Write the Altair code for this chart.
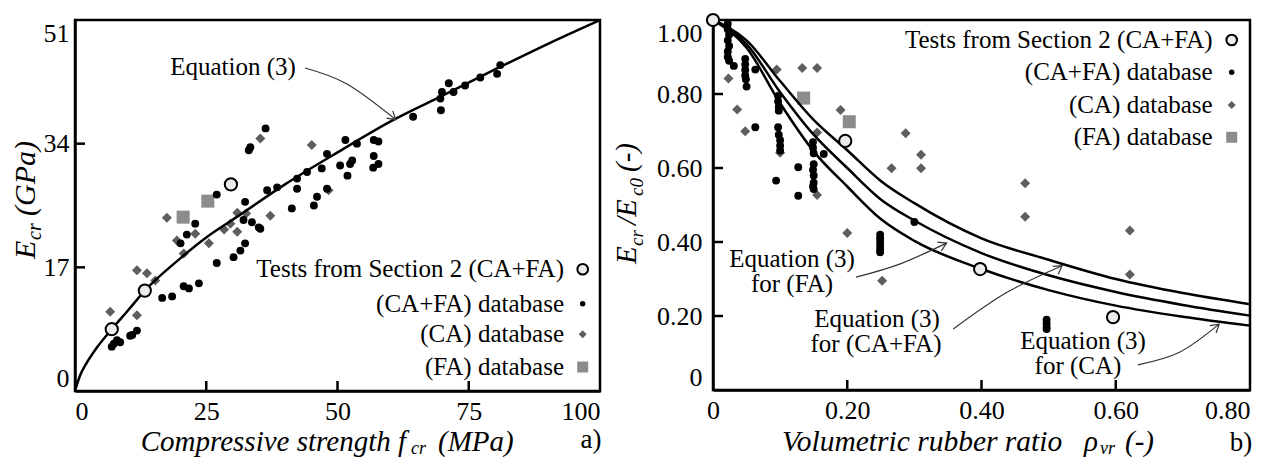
import altair as alt
import pandas as pd

FONT = "'Liberation Serif', 'Times New Roman', Times, 'DejaVu Serif', serif"
INK = "black"
GREY_DIAMOND = "#5e5e5e"
GREY_SQUARE = "#8c8c8c"
TEST_FILL = "#ececec"

# ---------------- panel a): E_cr against f_cr ----------------
fc_test = [7.0, 13.3, 29.7]
E_test = [8.5, 13.8, 28.4]

fc_cafa = [36.3, 33.4, 33.1, 48.0, 27.0, 36.6, 38.5, 42.3, 42.3, 44.2,
           47.0, 48.0, 46.1, 45.5, 41.3, 32.4, 33.7, 35.0, 32.1, 22.9,
           21.3, 20.1, 32.4, 31.5, 30.2, 27.0, 23.6, 21.7, 20.7, 18.5,
           16.6, 11.8, 10.9, 8.0, 7.4, 7.0, 8.6, 10.5, 35.3, 81.0,
           80.4, 77.2, 74.3, 71.2, 72.1, 69.9, 69.6, 69.7, 64.4, 57.8,
           56.9, 53.7, 51.5, 50.5, 52.8, 52.4, 51.9, 56.9, 57.8, 56.8]
E_cafa = [36.1, 33.5, 33.1, 32.6, 27.0, 27.6, 28.0, 29.2, 27.8, 30.1,
          30.6, 27.8, 26.7, 25.5, 25.1, 26.0, 23.2, 22.5, 23.5, 23.0,
          21.5, 20.3, 20.3, 19.3, 18.4, 17.6, 14.8, 14.1, 14.4, 13.0,
          12.8, 8.3, 7.7, 7.0, 6.5, 6.1, 6.7, 7.6, 22.3, 44.8,
          43.6, 43.1, 42.0, 42.3, 41.1, 41.1, 40.2, 38.6, 37.7, 34.3,
          34.5, 34.0, 34.5, 31.0, 31.7, 31.2, 29.6, 32.3, 31.2, 30.7]

fc_ca = [35.3, 45.1, 48.3, 37.2, 30.9, 32.6, 29.6, 28.4, 30.9, 22.9,
         25.5, 17.5, 19.4, 20.7, 11.8, 13.7, 15.3, 6.7, 11.8]
E_ca = [34.7, 33.8, 27.6, 24.1, 24.5, 24.4, 23.0, 22.2, 21.9, 21.6,
        20.3, 23.8, 20.7, 18.9, 16.6, 16.2, 15.2, 10.9, 10.4]

fc_fa = [25.3, 20.6]
E_fa = [26.1, 23.9]

# Equation (3) curve, panel a)
fc_eq = [0, 1, 2, 4, 7, 10, 13.3, 20, 25, 31, 40, 50, 61, 70, 80, 90, 100]
E_eq = [0, 2.2, 3.6, 5.8, 8.5, 11.0, 13.8, 18.2, 21.1, 24.0, 28.4, 32.8,
        37.4, 40.6, 44.2, 47.7, 51.0]

# ---------------- panel b): E_cr/E_c0 against rho_vr ----------------
rho_test = [0.0, 0.197, 0.398, 0.596]
ratio_test = [1.0, 0.673, 0.327, 0.197]

rho_cafa = [0.022, 0.022, 0.024, 0.022, 0.024, 0.022, 0.022, 0.024, 0.031,
            0.048, 0.048, 0.048, 0.048, 0.049, 0.050, 0.063, 0.063,
            0.097, 0.097, 0.098, 0.098, 0.097, 0.098, 0.100, 0.100, 0.100, 0.094,
            0.127, 0.127,
            0.149, 0.149, 0.150, 0.150, 0.149, 0.150, 0.150, 0.149, 0.150, 0.165,
            0.249, 0.249, 0.249, 0.249, 0.249, 0.249,
            0.300,
            0.497, 0.497, 0.497, 0.497]
ratio_cafa = [0.990, 0.975, 0.960, 0.945, 0.930, 0.915, 0.900, 0.890, 0.876,
              0.895, 0.880, 0.865, 0.850, 0.840, 0.820, 0.866, 0.710,
              0.795, 0.780, 0.765, 0.755, 0.710, 0.690, 0.675, 0.660, 0.647, 0.566,
              0.602, 0.525,
              0.670, 0.655, 0.640, 0.610, 0.595, 0.580, 0.560, 0.550, 0.543, 0.638,
              0.420, 0.410, 0.400, 0.390, 0.380, 0.372,
              0.454,
              0.190, 0.180, 0.170, 0.165]

rho_ca = [0.023, 0.036, 0.048, 0.095, 0.133, 0.155, 0.100, 0.155, 0.155, 0.190,
          0.266, 0.287, 0.310, 0.310, 0.200, 0.252, 0.465, 0.465, 0.621, 0.621]
ratio_ca = [0.842, 0.758, 0.699, 0.866, 0.870, 0.870, 0.641, 0.696, 0.527, 0.757,
            0.599, 0.694, 0.636, 0.599, 0.424, 0.295, 0.559, 0.468, 0.431, 0.312]

rho_fa = [0.135, 0.203]
ratio_fa = [0.789, 0.725]

# Equation (3) curves, panel b)
rho_eq = [0, 0.05, 0.10, 0.15, 0.20, 0.25, 0.30, 0.40, 0.50, 0.60, 0.70, 0.80]
ratio_eq_fa = [1.0, 0.945, 0.835, 0.73, 0.648, 0.565, 0.505, 0.41, 0.352, 0.300, 0.262, 0.232]
ratio_eq_cafa = [1.0, 0.935, 0.805, 0.69, 0.600, 0.515, 0.458, 0.37, 0.310, 0.265, 0.230, 0.201]
ratio_eq_ca = [1.0, 0.925, 0.775, 0.645, 0.550, 0.462, 0.403, 0.327, 0.270, 0.228, 0.198, 0.174]

# Panel sizes (plot areas)
WA, HA = 525, 371
WB, HB = 537, 370

ARROW_HEAD = "M -1 -0.6 L 0 0 L -1 0.6"


def frame(xs, ys):
    return pd.DataFrame({"x": xs, "y": ys})


def txt(s, x, y, size=25, italic=False, align="center", baseline="middle", angle=0):
    return alt.Chart(pd.DataFrame({"t": [s]})).mark_text(
        font=FONT, fontSize=size, fontStyle="italic" if italic else "normal",
        align=align, baseline=baseline, angle=angle, color=INK,
    ).encode(x=alt.value(x), y=alt.value(y), text="t:N")


def symbol(x, y, shape, size, fill, stroke=None, stroke_width=0):
    kw = dict(shape=shape, size=size, filled=True, fill=fill, opacity=1)
    if stroke:
        kw.update(stroke=stroke, strokeWidth=stroke_width)
    else:
        kw.update(strokeWidth=0)
    return alt.Chart(pd.DataFrame({"k": [0]})).mark_point(**kw).encode(
        x=alt.value(x), y=alt.value(y))


def axis(values, padding, flush=True, expr=None, align=None):
    kw = dict(values=values, title=None, ticks=False, tickSize=0, grid=False,
              labelFlush=flush, labelPadding=padding, labelFont=FONT,
              labelFontSize=26, labelColor=INK, domainColor=INK, domainWidth=2.5)
    if expr:
        kw["labelExpr"] = expr
    if align is not None:
        kw["labelAlign"] = align
    return alt.Axis(**kw)


def panel(sx, sy, ax, ay, dots, diamonds, squares, tests, curves, arrows,
          xticks, yticks, h):
    X = alt.X("x:Q", scale=sx, axis=ax)
    Y = alt.Y("y:Q", scale=sy, axis=ay)
    layers = []
    layers.append(alt.Chart(squares).mark_point(
        shape="square", filled=True, color=GREY_SQUARE, size=170, opacity=1,
        strokeWidth=0).encode(x=X, y=Y))
    layers.append(alt.Chart(diamonds).mark_point(
        shape="diamond", filled=True, color=GREY_DIAMOND, size=100, opacity=1,
        strokeWidth=0).encode(x=X, y=Y))
    layers.append(alt.Chart(dots).mark_circle(
        color=INK, size=62, opacity=1).encode(x=X, y=Y))
    for c in curves:
        layers.append(alt.Chart(c).mark_line(
            color=INK, strokeWidth=2.5, interpolate="monotone").encode(x=X, y=Y))
    for path, head_angle in arrows:
        layers.append(alt.Chart(path).mark_line(
            color="#333333", strokeWidth=1.2, interpolate="natural").encode(x=X, y=Y))
        layers.append(alt.Chart(path.tail(1)).mark_point(
            shape=ARROW_HEAD, filled=False, color="#333333", strokeWidth=1.2,
            size=256, opacity=1, angle=head_angle).encode(x=X, y=Y))
    layers.append(alt.Chart(tests).mark_point(
        shape="circle", filled=True, fill=TEST_FILL, stroke=INK, strokeWidth=2,
        size=150, opacity=1).encode(x=X, y=Y))
    # inward ticks
    layers.append(alt.Chart(pd.DataFrame({"x": xticks})).mark_rule(
        color=INK, strokeWidth=2.5).encode(
        x=alt.X("x:Q", scale=sx, axis=ax), y=alt.value(h), y2=alt.value(h - 10)))
    layers.append(alt.Chart(pd.DataFrame({"y": yticks})).mark_rule(
        color=INK, strokeWidth=2.5).encode(
        y=alt.Y("y:Q", scale=sy, axis=ay), x=alt.value(0), x2=alt.value(10)))
    return layers


def legend(x_text, x_sym, rows):
    return [
        txt("Tests from Section 2 (CA+FA)", x_text, rows[0], align="right"),
        txt("(CA+FA) database", x_text, rows[1], align="right"),
        txt("(CA) database", x_text, rows[2], align="right"),
        txt("(FA) database", x_text, rows[3], align="right"),
        symbol(x_sym, rows[0], "circle", 113, TEST_FILL, INK, 2),
        symbol(x_sym, rows[1], "circle", 30, INK),
        symbol(x_sym, rows[2], "diamond", 64, GREY_DIAMOND),
        symbol(x_sym, rows[3], "square", 121, GREY_SQUARE),
    ]


# ---- panel a) ----
SXA = alt.Scale(domain=[0, 100], nice=False, zero=False)
SYA = alt.Scale(domain=[0, 51], nice=False, zero=False)
AXA = axis([0, 25, 50, 75, 100], 7)
AYA = axis([0, 17, 34, 51], 6)

arrow_a = frame([43.8, 51.8, 61.1], [44.4, 42.2, 37.3])

layers_a = panel(
    SXA, SYA, AXA, AYA,
    frame(fc_cafa, E_cafa), frame(fc_ca, E_ca), frame(fc_fa, E_fa), frame(fc_test, E_test),
    [frame(fc_eq, E_eq)],
    [(arrow_a, 40)],
    [25, 50, 75], [17, 34], HA)
layers_a += legend(489, 507.7, [249.3, 283.7, 314.3, 347])
layers_a += [
    txt("Equation (3)", 158, 47),
    # x title
    txt("Compressive strength f", 331, 431, size=29, italic=True, align="right",
        baseline="alphabetic"),
    txt("cr", 336, 434, size=18, italic=True, align="left", baseline="alphabetic"),
    txt("(MPa)", 363, 431, size=29, italic=True, align="left", baseline="alphabetic"),
    # y title
    txt("E", -40, 239, size=30, italic=True, align="left", baseline="alphabetic", angle=270),
    txt("cr", -34, 220, size=20, italic=True, align="left", baseline="alphabetic", angle=270),
    txt("(GPa)", -40, 196, size=30, italic=True, align="left", baseline="alphabetic", angle=270),
    txt("a)", 516, 420, size=27),
]
chart_a = alt.layer(*layers_a).properties(width=WA, height=HA)

# ---- panel b) ----
SXB = alt.Scale(domain=[0, 0.8], nice=False, zero=False)
SYB = alt.Scale(domain=[0, 1.0], nice=False, zero=False)
AXB = axis([0, 0.2, 0.4, 0.6, 0.8], 7, flush=False,
           expr="datum.value == 0 ? '0' : format(datum.value, '.2f')",
           align={"condition": {"test": "datum.value >= 0.79", "value": "right"},
                  "value": "center"})
AYB = axis([0, 0.2, 0.4, 0.6, 0.8, 1.0], 11,
           expr="datum.value == 0 ? '0' : format(datum.value, '.2f')")

arrow_fa = frame([0.213, 0.279, 0.348], [0.305, 0.341, 0.397])
arrow_cafa = frame([0.358, 0.438, 0.520], [0.165, 0.264, 0.336])
arrow_ca = frame([0.633, 0.695, 0.754], [0.068, 0.102, 0.178])

layers_b = panel(
    SXB, SYB, AXB, AYB,
    frame(rho_cafa, ratio_cafa), frame(rho_ca, ratio_ca), frame(rho_fa, ratio_fa),
    frame(rho_test, ratio_test),
    [frame(rho_eq, ratio_eq_fa), frame(rho_eq, ratio_eq_cafa), frame(rho_eq, ratio_eq_ca)],
    [(arrow_fa, 335), (arrow_cafa, 325), (arrow_ca, 320)],
    [0.2, 0.4, 0.6], [0.2, 0.4, 0.6, 0.8], HB)
layers_b += legend(499.7, 518.7, [20, 52.3, 85, 117.3])
layers_b += [
    txt("Equation (3)", 79, 239), txt("for (FA)", 79, 264),
    txt("Equation (3)", 164, 299), txt("for (CA+FA)", 163, 324),
    txt("Equation (3)", 370, 321), txt("for (CA)", 365, 346),
    # x title
    txt("Volumetric rubber ratio", 69, 431, size=29.5, italic=True, align="left",
        baseline="alphabetic"),
    txt("\u03c1", 371, 431, size=29, italic=True, align="left", baseline="alphabetic"),
    txt("vr", 387, 434, size=18, italic=True, align="left", baseline="alphabetic"),
    txt("(-)", 412, 431, size=29, italic=True, align="left", baseline="alphabetic"),
    # y title
    txt("E", -77, 244, size=29, italic=True, align="left", baseline="alphabetic", angle=270),
    txt("cr", -70, 226, size=19, italic=True, align="left", baseline="alphabetic", angle=270),
    txt("/E", -77, 205, size=29, italic=True, align="left", baseline="alphabetic", angle=270),
    txt("c0", -70, 176, size=19, italic=True, align="left", baseline="alphabetic", angle=270),
    txt("(-)", -77, 152, size=29, italic=True, align="left", baseline="alphabetic", angle=270),
    txt("b)", 528, 423, size=27),
]
chart_b = alt.layer(*layers_b).properties(width=WB, height=HB)

chart = alt.hconcat(chart_a, chart_b, spacing=4).properties(
    padding={"left": 9, "top": 8, "right": 0, "bottom": 0},
    background="white",
).configure_view(stroke=INK, strokeWidth=2.5)

chart.save("out.html", embed_options={"renderer": "svg", "actions": False})
